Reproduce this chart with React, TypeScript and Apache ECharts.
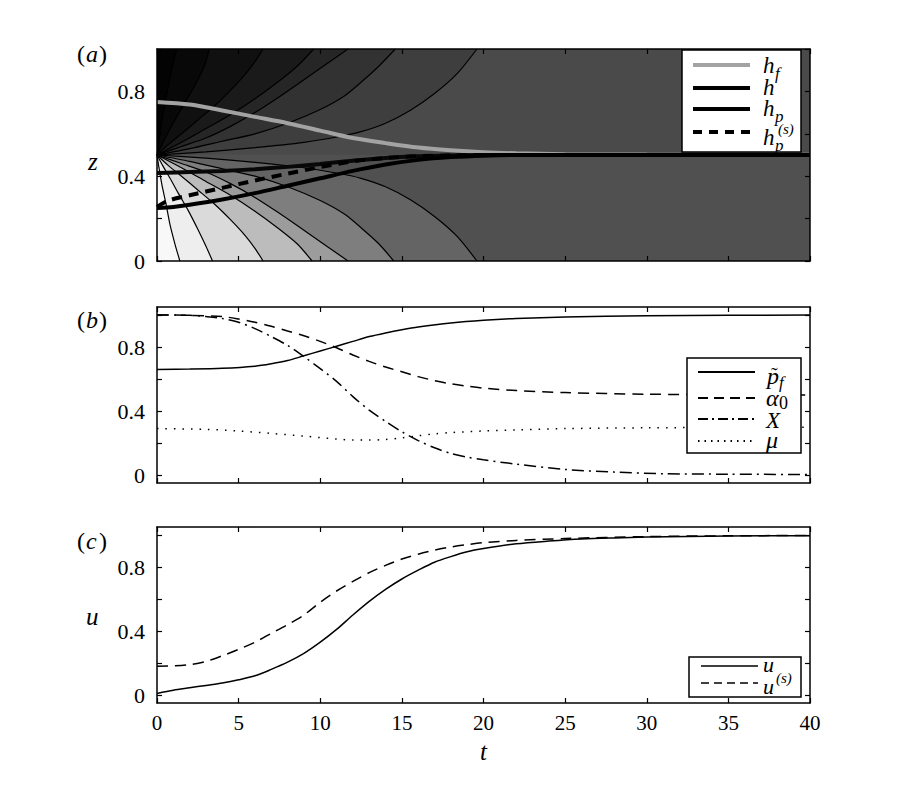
import React, { useEffect, useRef } from 'react';
import * as echarts from 'echarts';

const FONT = 'Liberation Serif';

// ---------- Panel (a) ----------
const hfData = [[0,0.75],[2,0.738],[4,0.71],[6,0.68],[8,0.65],[10,0.615],[12,0.58],[14,0.556],[16,0.535],[18,0.522],[20,0.513],[22,0.508],[25,0.504],[30,0.502],[40,0.501]];
const hData = [[0,0.415],[2,0.42],[4,0.425],[6,0.433],[8,0.444],[10,0.458],[12,0.473],[14,0.486],[16,0.494],[18,0.498],[20,0.5],[40,0.5]];
const hpData = [[0,0.25],[1,0.255],[2,0.265],[4,0.29],[6,0.32],[8,0.355],[10,0.39],[12,0.425],[14,0.455],[16,0.477],[18,0.49],[20,0.497],[22,0.5],[40,0.5]];
const hpsData = [[0,0.255],[0.7,0.285],[2,0.31],[4,0.345],[6,0.38],[8,0.412],[10,0.443],[12,0.47],[14,0.486],[16,0.494],[18,0.498],[20,0.5],[40,0.5]];

// contour lines above the focus (z > 0.5)
const uG = [[0,0.5],[0.1,0.56],[0.25,0.64],[0.45,0.73],[0.7,0.83],[0.95,0.92],[1.2,1.0]];
const uF = [[0,0.5],[0.3,0.55],[0.7,0.61],[1.2,0.68],[1.8,0.76],[2.4,0.84],[2.9,0.92],[3.2,1.0]];
const uE = [[0,0.5],[0.7,0.55],[1.5,0.6],[2.5,0.665],[3.5,0.73],[4.5,0.805],[5.4,0.88],[6.0,0.94],[6.5,1.0]];
const uA = [[0,0.5],[1.5,0.56],[3,0.625],[4.5,0.69],[6,0.765],[7.5,0.85],[8.6,0.92],[9.6,1.0]];
const uB = [[0,0.5],[1.5,0.54],[3,0.58],[4.5,0.635],[6,0.7],[7.5,0.775],[9,0.855],[10.4,0.93],[11.7,1.0]];
const uC = [[0,0.5],[2,0.53],[4,0.565],[6,0.6],[8,0.65],[10,0.715],[11.5,0.78],[12.6,0.85],[13.6,0.92],[14.6,1.0]];
const uD = [[0,0.5],[3,0.515],[6,0.535],[9,0.56],[11,0.585],[12.5,0.61],[14,0.65],[15.5,0.71],[17,0.79],[18.4,0.885],[19.6,1.0]];
// contour lines below the focus (z < 0.5)
const lG = [[0,0.5],[0.12,0.44],[0.3,0.36],[0.55,0.27],[0.8,0.17],[1.1,0.08],[1.4,0]];
const lF = [[0,0.5],[0.35,0.45],[0.8,0.39],[1.3,0.32],[1.9,0.24],[2.5,0.15],[3.0,0.07],[3.4,0]];
const lE = [[0,0.5],[0.7,0.45],[1.5,0.4],[2.5,0.335],[3.5,0.27],[4.5,0.195],[5.4,0.12],[6.0,0.06],[6.5,0]];
const lA = [[0,0.5],[1.5,0.44],[3,0.375],[4.5,0.31],[6,0.235],[7.5,0.15],[8.6,0.08],[9.5,0]];
const lB = [[0,0.5],[1.5,0.46],[3,0.42],[4.5,0.365],[6,0.3],[7.5,0.225],[9,0.145],[10.4,0.07],[11.7,0]];
const lC = [[0,0.5],[2,0.47],[4,0.435],[6,0.4],[8,0.35],[10,0.285],[11.5,0.22],[12.6,0.15],[13.6,0.08],[14.5,0]];
const lD = [[0,0.5],[3,0.485],[6,0.465],[9,0.44],[11,0.415],[12.5,0.39],[14,0.35],[15.5,0.29],[17,0.21],[18.4,0.115],[19.6,0]];

const upperContours = [uD, uC, uB, uA, uE, uF, uG];
const upperShades = ['#3e3e3e', '#323232', '#262626', '#1a1a1a', '#101010', '#080808', '#030303'];
const lowerContours = [lD, lC, lB, lA, lE, lF, lG];
const lowerShades = ['#646464', '#7e7e7e', '#9c9c9c', '#bcbcbc', '#dadada', '#eeeeee', '#f8f8f8'];
const upperHalf = [[0,0.5],[40,0.5],[40,1],[0,1]];
const lowerHalf = [[0,0],[40,0],[40,0.5],[0,0.5]];
const upperBase = '#4a4a4a';
const lowerBase = '#505050';

// ---------- Panel (b) ----------
const pfData = [[0,0.66],[2,0.662],[4,0.667],[6,0.68],[7,0.695],[8,0.715],[9,0.745],[10,0.775],[11,0.805],[12,0.835],[13,0.865],[14,0.888],[15,0.908],[16,0.925],[18,0.95],[20,0.967],[22,0.978],[25,0.987],[30,0.995],[35,0.998],[40,1.0]];
const alphaData = [[0,1.0],[2,0.998],[4,0.99],[5,0.975],[6,0.955],[7,0.93],[8,0.9],[9,0.87],[10,0.835],[11,0.795],[12,0.75],[13,0.71],[14,0.675],[15,0.645],[16,0.615],[17,0.59],[18,0.57],[19,0.555],[20,0.543],[22,0.528],[25,0.515],[30,0.505],[35,0.502],[40,0.5]];
const xData = [[0,1.0],[2,0.998],[3,0.99],[4,0.978],[5,0.955],[6,0.915],[7,0.865],[8,0.81],[9,0.74],[10,0.665],[11,0.585],[12,0.49],[13,0.405],[14,0.335],[15,0.27],[16,0.215],[17,0.17],[18,0.135],[19,0.112],[20,0.095],[22,0.068],[25,0.035],[28,0.018],[31,0.008],[35,0.005],[40,0.003]];
const muData = [[0,0.29],[3,0.285],[5,0.275],[7,0.26],[9,0.243],[11,0.225],[12,0.218],[13,0.218],[14,0.222],[15,0.232],[16,0.245],[17,0.257],[18,0.265],[20,0.275],[22,0.282],[25,0.29],[30,0.295],[35,0.297],[40,0.298]];

// ---------- Panel (c) ----------
const uData = [[0,0.01],[1,0.03],[2,0.045],[3,0.06],[4,0.075],[5,0.095],[6,0.12],[7,0.16],[8,0.205],[9,0.26],[10,0.33],[11,0.41],[12,0.5],[13,0.585],[14,0.66],[15,0.725],[16,0.78],[17,0.83],[18,0.865],[19,0.895],[20,0.915],[22,0.945],[24,0.962],[26,0.975],[28,0.982],[30,0.987],[35,0.994],[40,0.996]];
const usData = [[0,0.18],[1,0.182],[2,0.19],[3,0.21],[4,0.245],[5,0.285],[6,0.33],[7,0.385],[8,0.44],[9,0.5],[10,0.58],[11,0.65],[12,0.71],[13,0.765],[14,0.81],[15,0.85],[16,0.88],[17,0.905],[18,0.925],[19,0.94],[20,0.952],[22,0.966],[25,0.978],[30,0.99],[35,0.995],[40,0.997]];

const tTicks = [0, 5, 10, 15, 20, 25, 30, 35, 40];
const yTicks = [0, 0.2, 0.4, 0.6, 0.8, 1.0];
const yLabels = [0, 0.4, 0.8];

const GRIDS = [
  { left: 157, top: 49, width: 653, height: 212 },
  { left: 157, top: 307, width: 653, height: 176 },
  { left: 157, top: 527, width: 653, height: 176 },
];
const YRANGE = [[0, 1], [-0.05, 1.05], [-0.05, 1.05]];

function makeXAxes(g: number, labels: boolean) {
  const common: any = {
    type: 'value', gridIndex: g, min: 0, max: 40, interval: 5, z: 10,
    splitLine: { show: false },
    axisLine: { show: true, onZero: false, lineStyle: { color: '#000', width: 1.5 } },
    axisTick: { show: true, inside: true, length: 5, lineStyle: { color: '#000', width: 1.2 } },
  };
  return [
    { ...common, position: 'bottom', axisLabel: { show: labels, margin: 9, color: '#000', fontFamily: FONT, fontSize: 21, customValues: tTicks } },
    { ...common, position: 'top', axisLabel: { show: false } },
  ];
}
function makeYAxes(g: number) {
  const common: any = {
    type: 'value', gridIndex: g, min: YRANGE[g][0], max: YRANGE[g][1], z: 10,
    splitLine: { show: false },
    axisLine: { show: true, onZero: false, lineStyle: { color: '#000', width: 1.5 } },
    axisTick: { show: true, inside: true, length: 5, customValues: yTicks, lineStyle: { color: '#000', width: 1.2 } },
  };
  return [
    { ...common, position: 'left', axisLabel: { show: true, margin: 12, color: '#000', fontFamily: FONT, fontSize: 22, customValues: yLabels, formatter: (v: number) => (v === 0 ? '0' : String(v)) } },
    { ...common, position: 'right', axisLabel: { show: false } },
  ];
}

function lineSeries(data: number[][], g: number, color: string, width: number, type: any, z = 3, smooth: any = 0.3) {
  return {
    type: 'line', data, xAxisIndex: g * 2, yAxisIndex: g * 2, showSymbol: false, symbol: 'none',
    smooth, z, silent: true, clip: true,
    lineStyle: { color, width, type },
  };
}

// background bands (built from the contour arrays)
const bands: { pts: number[][]; fill: string }[] = [
  { pts: upperHalf, fill: upperBase },
  { pts: lowerHalf, fill: lowerBase },
  ...upperContours.map((c, i) => ({ pts: [...c, [0, 1]], fill: upperShades[i] })),
  ...lowerContours.map((c, i) => ({ pts: [...c, [0, 0]], fill: lowerShades[i] })),
];

function txt(text: string, x: number, y: number, size: number, italic = true) {
  return {
    type: 'text', x, y, z: 101,
    style: { text, fill: '#000', fontFamily: FONT, fontSize: size, fontStyle: italic ? 'italic' : 'normal', textAlign: 'left', textVerticalAlign: 'middle' },
  };
}
function box(x1: number, y1: number, x2: number, y2: number) {
  return { type: 'rect', z: 100, shape: { x: x1, y: y1, width: x2 - x1, height: y2 - y1 }, style: { fill: '#fff', stroke: '#000', lineWidth: 1.5 } };
}
function sample(x1: number, x2: number, y: number, stroke: string, lineWidth: number, lineDash?: number[]) {
  return { type: 'line', z: 101, shape: { x1, y1: y, x2, y2: y }, style: { stroke, lineWidth, lineDash } };
}
function panelLabel(letter: string, x: number, y: number) {
  return [
    txt('(', x, y, 24, false),
    txt(letter, x + 9, y, 24, true),
    txt(')', x + 22, y, 24, false),
  ];
}

export default function App() {
  const ref = useRef<HTMLDivElement>(null);
  useEffect(() => {
    const chart = echarts.init(ref.current!, null, { renderer: 'svg' });
    const option: any = {
      animation: false,
      backgroundColor: '#ffffff',
      grid: GRIDS.map((g) => ({ ...g, containLabel: false })),
      xAxis: [...makeXAxes(0, false), ...makeXAxes(1, false), ...makeXAxes(2, true)],
      yAxis: [...makeYAxes(0), ...makeYAxes(1), ...makeYAxes(2)],
      series: [
        {
          type: 'custom', xAxisIndex: 0, yAxisIndex: 0, clip: true, silent: true, z: 1,
          data: bands.map((b, i) => [b.pts[0][0], b.pts[0][1], i]),
          renderItem: (params: any, api: any) => {
            const b = bands[api.value(2)];
            return {
              type: 'polygon',
              shape: { points: b.pts.map((p) => api.coord(p)) },
              style: { fill: b.fill, stroke: b.fill, lineWidth: 0.5 },
            };
          },
        },
        ...[...upperContours, ...lowerContours].map((c) => lineSeries(c, 0, '#000', 1.2, 'solid', 2, 0.25)),
        lineSeries(hfData, 0, '#a3a3a3', 4, 'solid', 4),
        lineSeries(hData, 0, '#080808', 4, 'solid', 5),
        lineSeries(hpData, 0, '#000', 4, 'solid', 5),
        lineSeries(hpsData, 0, '#000', 4, [10, 7], 6),
        lineSeries(pfData, 1, '#000', 1.5, 'solid'),
        lineSeries(alphaData, 1, '#000', 1.5, [11, 7]),
        lineSeries(xData, 1, '#000', 1.5, [12, 5, 2, 5]),
        lineSeries(muData, 1, '#000', 1.5, [1.5, 7]),
        lineSeries(uData, 2, '#000', 1.5, 'solid'),
        lineSeries(usData, 2, '#000', 1.5, [11, 7]),
      ],
      graphic: [
        ...panelLabel('a', 77, 54),
        ...panelLabel('b', 77, 320),
        ...panelLabel('c', 77, 541),
        txt('z', 88, 161, 25),
        txt('u', 86, 616, 25),
        txt('t', 480, 751, 25),
        // legend (a)
        box(682, 50, 801, 152),
        sample(693, 750, 65, '#a3a3a3', 4),
        txt('h', 763, 65, 23), txt('f', 775, 73, 17),
        sample(693, 750, 88, '#000', 4),
        txt('h', 763, 87, 23),
        sample(693, 750, 109, '#000', 4),
        txt('h', 763, 108, 23), txt('p', 775, 116, 17),
        sample(693, 750, 132, '#000', 4, [9, 7]),
        txt('h', 763, 137, 23), txt('p', 775, 145, 17), txt('(s)', 778, 129, 15),
        // legend (b)
        box(687, 358, 801, 453),
        sample(698, 755, 372, '#000', 2),
        txt('p', 767, 376, 24), txt('\u02DC', 771, 375, 20, false), txt('f', 779, 382, 17),
        sample(698, 755, 398, '#000', 2, [10, 6]),
        txt('\u03B1', 766, 398, 24), txt('0', 779, 403, 18, false),
        sample(698, 755, 419, '#000', 2, [10, 4, 2, 4]),
        txt('X', 766, 420, 23),
        sample(698, 755, 441, '#000', 2, [1.5, 5]),
        txt('\u03BC', 766, 440, 24),
        // legend (c)
        box(689, 657, 801, 697),
        sample(701, 758, 666, '#000', 1.5),
        txt('u', 763, 664, 22),
        sample(701, 758, 683, '#000', 1.5, [8, 5]),
        txt('u', 763, 686, 22), txt('(s)', 776, 678, 15),
      ],
    };
    chart.setOption(option);
    return () => chart.dispose();
  }, []);
  return <div ref={ref} style={{ position: 'fixed', left: 0, top: 0, width: 900, height: 801 }} />;
}
